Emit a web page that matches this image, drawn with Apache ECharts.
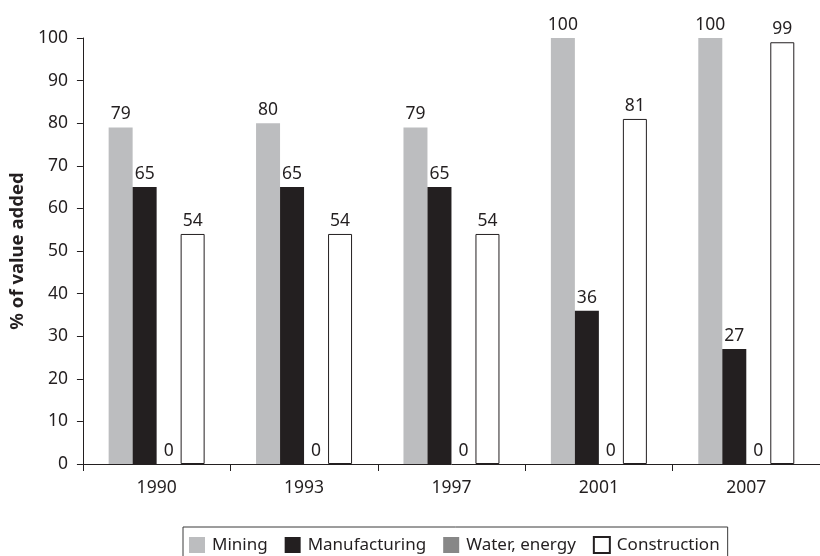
<!DOCTYPE html>
<html>
<head>
<meta charset="utf-8">
<script src="https://cdn.jsdelivr.net/npm/echarts@6/dist/echarts.min.js"></script>
<style>html,body{margin:0;padding:0;background:#fff}#c{width:820px;height:556px}</style>
</head>
<body>
<div id="c"></div>
<script>
const categories = ['1990', '1993', '1997', '2001', '2007'];
const mining = [79, 80, 79, 100, 100];
const manufacturing = [65, 65, 65, 36, 27];
const waterEnergy = [0, 0, 0, 0, 0];
const construction = [54, 54, 54, 81, 99];
const yTicks = [0, 10, 20, 30, 40, 50, 60, 70, 80, 90, 100];

const FONT = 'Noto Sans';
const DARK = '#231f20';
const chart = echarts.init(document.getElementById('c'), null, {renderer: 'canvas'});
const lbl = {show: true, position: 'top', distance: 4, color: DARK, fontFamily: FONT, fontSize: 17.5};
function mk(name, data, color, border) {
  return {
    name: name, type: 'bar', data: data, barWidth: 24, barGap: '0%',
    itemStyle: border ? {color: color, borderColor: DARK, borderWidth: 1} : {color: color},
    label: lbl, emphasis: {disabled: true}
  };
}
chart.setOption({
  animation: false,
  backgroundColor: '#fff',
  grid: {left: 79, top: 38, width: 745, bottom: 92},
  legend: {
    left: 183, top: 527, padding: [9, 8, 9, 6],
    borderColor: '#3a3a3a', borderWidth: 1,
    itemWidth: 16, itemHeight: 16, itemGap: 17,
    textStyle: {fontFamily: FONT, fontSize: 17, color: DARK, padding: [0, 0, 0, 2]},
    icon: 'rect',
    data: ['Mining', 'Manufacturing', 'Water, energy', 'Construction']
  },
  xAxis: {
    type: 'category', data: categories,
    axisLine: {lineStyle: {color: DARK, width: 1}},
    axisTick: {show: true, length: 7, lineStyle: {color: DARK}},
    axisLabel: {color: DARK, fontFamily: FONT, fontSize: 17.5, margin: 15}
  },
  yAxis: {
    type: 'value', min: yTicks[0], max: yTicks[yTicks.length - 1], interval: 10,
    name: '% of value added', nameLocation: 'middle', nameGap: 50,
    nameTextStyle: {fontFamily: FONT, fontSize: 18.5, fontWeight: 'bold', color: DARK},
    axisLine: {show: true, lineStyle: {color: DARK, width: 1}},
    axisTick: {show: true, length: 6, lineStyle: {color: DARK}},
    splitLine: {show: false},
    axisLabel: {color: DARK, fontFamily: FONT, fontSize: 17.5, margin: 15}
  },
  series: [
    mk('Mining', mining, '#bcbdbf', false),
    mk('Manufacturing', manufacturing, DARK, false),
    mk('Water, energy', waterEnergy, '#878787', false),
    mk('Construction', construction, '#ffffff', true)
  ]
});
</script>
</body>
</html>
